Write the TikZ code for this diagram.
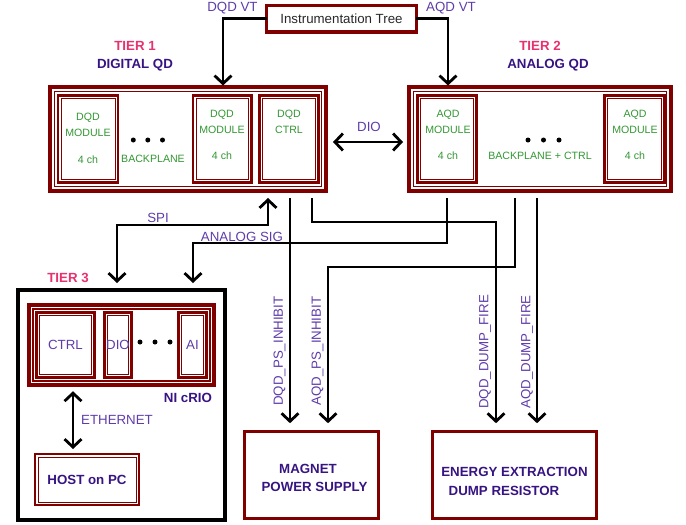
\documentclass[tikz,border=0pt]{standalone}
\usepackage{fontspec}
\setmainfont{Liberation Sans}
\usetikzlibrary{arrows.meta}
\definecolor{dkred}{RGB}{128,0,0}
\definecolor{modgreen}{RGB}{50,150,50}
\definecolor{lblpurple}{RGB}{95,60,170}
\definecolor{hdrblue}{RGB}{55,20,130}
\definecolor{tierpink}{RGB}{230,50,110}
\definecolor{treetext}{RGB}{40,40,40}
\newcommand\mainsz{\fontsize{13.3pt}{15pt}\selectfont}
\newcommand\modsz{\fontsize{10.6pt}{12pt}\selectfont}
\begin{document}
\begin{tikzpicture}[x=1pt,y=-1pt,
  every node/.style={inner sep=0pt, outer sep=0pt},
  tierbox/.style={draw=dkred, line width=3.7pt,
    path picture={\draw[dkred,line width=1.6pt]
      ([shift={(4.4pt,-4.4pt)}]path picture bounding box.north west) rectangle
      ([shift={(-4.4pt,4.4pt)}]path picture bounding box.south east);}},
  modbox/.style={draw=dkred, line width=2.8pt,
    path picture={\draw[dkred,line width=0.8pt]
      ([shift={(3pt,-3pt)}]path picture bounding box.north west) rectangle
      ([shift={(-3pt,3pt)}]path picture bounding box.south east);}},
  plainbox/.style={draw=dkred, line width=3.4pt},
  modtxt/.style={font=\modsz, text=modgreen},
  lbl/.style={font=\mainsz, text=lblpurple},
  hdr/.style={font=\mainsz\bfseries, text=hdrblue},
  tiertxt/.style={font=\mainsz\bfseries, text=tierpink},
  arr/.style={line width=2.8pt, -{Straight Barb[length=8pt,width=17pt]}},
  dblarr/.style={line width=2.8pt, {Straight Barb[length=8pt,width=17pt]}-{Straight Barb[length=8pt,width=17pt]}},
  dot/.style={fill=black}
]
\useasboundingbox (0,0) rectangle (686,525);

% Instrumentation tree
\node[plainbox, minimum width=149.6pt, minimum height=26.6pt, font=\mainsz, text=treetext] (tree) at (341.5,18.5) {Instrumentation Tree};
\node[lbl] (dvt) at (232.5,8) {DQD VT};
\node[lbl] (avt) at (451,8) {AQD VT};

% Tier 1
\node[tiertxt] (t1a) at (135,46) {TIER 1};
\node[hdr] (t1b) at (135,65) {DIGITAL QD};
\node[tierbox, minimum width=276pt, minimum height=104pt] (t1) at (188,139) {};
\node[modbox, minimum width=60pt, minimum height=87.5pt] (dm1) at (88,139) {};
\node[modbox, minimum width=58.7pt, minimum height=87.5pt] (dm2) at (222.3,139) {};
\node[modbox, minimum width=59.4pt, minimum height=87.5pt] (dctrl) at (289,139) {};
\node[modtxt] (dm1a) at (88,118) {DQD};
\node[modtxt] (dm1b) at (88,133) {MODULE};
\node[modtxt] (dm1c) at (88,160) {4 ch};
\node[modtxt] (dm2a) at (222,115) {DQD};
\node[modtxt] (dm2b) at (222,130) {MODULE};
\node[modtxt] (dm2c) at (222,156) {4 ch};
\node[modtxt] (dca) at (289,115) {DQD};
\node[modtxt] (dcb) at (289,130) {CTRL};
\node[modtxt] (bp1) at (153,159) {BACKPLANE};
\fill[dot] (133.3,140) circle (2.5pt) (147.8,140) circle (2.5pt) (162.5,140) circle (2.5pt);

% Tier 2
\node[tiertxt] (t2a) at (540,46) {TIER 2};
\node[hdr] (t2b) at (548,65) {ANALOG QD};
\node[tierbox, minimum width=262pt, minimum height=104pt] (t2) at (540,139) {};
\node[modbox, minimum width=59.4pt, minimum height=87.5pt] (am1) at (447,139) {};
\node[modbox, minimum width=60.4pt, minimum height=87.5pt] (am2) at (634.5,139) {};
\node[modtxt] (am1a) at (448,115) {AQD};
\node[modtxt] (am1b) at (448,130) {MODULE};
\node[modtxt] (am1c) at (448,156) {4 ch};
\node[modtxt] (am2a) at (635,115) {AQD};
\node[modtxt] (am2b) at (635,130) {MODULE};
\node[modtxt] (am2c) at (635,156) {4 ch};
\node[modtxt] (bp2) at (540,156) {BACKPLANE + CTRL};
\fill[dot] (528,140) circle (2.5pt) (543.5,140) circle (2.5pt) (559,140) circle (2.5pt);

% DIO
\node[lbl] (diol) at (369,127) {DIO};
\draw[dblarr, shorten <=7pt, shorten >=6pt] ([yshift=-3pt]t1.east) -- ([yshift=-3pt]t2.west);

% Tier 3
\node[tiertxt] (t3a) at (68,278) {TIER 3};
\node[draw=black, line width=4pt, minimum width=207pt, minimum height=230pt] (t3) at (121.5,405) {};
\node[tierbox, minimum width=185.5pt, minimum height=80.5pt] (crio) at (121.5,345) {};
\node[modbox, minimum width=58.5pt, minimum height=65.5pt, lbl] (cctrl) at (65.5,345) {CTRL};
\node[modbox, minimum width=27.5pt, minimum height=65.5pt, lbl] (cdio) at (118,345) {DIO};
\node[modbox, minimum width=28.5pt, minimum height=65.5pt, lbl] (cai) at (192.5,345) {AI};
\fill[dot] (140,342) circle (2.5pt) (155,342) circle (2.5pt) (170,342) circle (2.5pt);
\node[hdr] (criol) at (188,398) {NI cRIO};
\node[modbox, minimum width=104pt, minimum height=51pt, hdr] (host) at (87,479.5) {HOST on PC};
\draw[dblarr, shorten <=6pt, shorten >=5pt] (crio.south -| 73,0) -- (host.north -| 73,0);
\node[lbl] (ethl) at (117,420) {ETHERNET};

% Magnet and energy boxes
\node[plainbox, minimum width=133.6pt, minimum height=86.6pt] (mag) at (311.5,475) {};
\node[hdr] (maga) at (308,469) {MAGNET};
\node[hdr] (magb) at (314.5,487) {POWER SUPPLY};
\node[plainbox, minimum width=163.6pt, minimum height=86.6pt] (en) at (514.5,475) {};
\node[hdr] (ena) at (514.5,472) {ENERGY EXTRACTION};
\node[hdr] (enb) at (504,491) {DUMP RESISTOR};

% connector coordinates
\coordinate (cL) at (223,0);
\coordinate (cR) at (448,0);
\coordinate (spiA) at (268,225);
\coordinate (spiB) at (117,225);
\coordinate (asA) at (447,243);
\coordinate (asB) at (193,243);
\coordinate (dps) at (290,0);
\coordinate (aps1) at (515,267);
\coordinate (aps2) at (328,267);
\coordinate (ddf1) at (312,222);
\coordinate (ddf2) at (496,222);
\coordinate (adf) at (537,0);

\draw[arr, shorten >=1.5pt] (tree.west) -| (t1.north -| cL);
\draw[arr, shorten >=1.5pt] (tree.east) -| (t2.north -| cR);
\draw[dblarr, shorten <=7pt, shorten >=7pt] (t1.south -| spiA) -- (spiA) -- (spiB) -- (t3.north -| spiB);
\node[lbl] (spil) at (158,218) {SPI};
\draw[arr, shorten <=7pt, shorten >=7pt] (t2.south -| asA) -- (asA) -- (asB) -- (t3.north -| asB);
\node[lbl] (asl) at (242,237) {ANALOG SIG};
\draw[arr, shorten <=7pt, shorten >=8.5pt] (t1.south -| dps) -- (mag.north -| dps);
\draw[arr, shorten <=7pt, shorten >=8.5pt] (t2.south -| aps1) -- (aps1) -- (aps2) -- (mag.north -| aps2);
\draw[arr, shorten <=7pt, shorten >=8.5pt] (t1.south -| ddf1) -- (ddf1) -- (ddf2) -- (en.north -| ddf2);
\draw[arr, shorten <=7pt, shorten >=8.5pt] (t2.south -| adf) -- (en.north -| adf);

\node[lbl, rotate=90] (l1) at (279.5,351) {DQD\_PS\_INHIBIT};
\node[lbl, rotate=90] (l2) at (317.5,351) {AQD\_PS\_INHIBIT};
\node[lbl, rotate=90] (l3) at (485,352) {DQD\_DUMP\_FIRE};
\node[lbl, rotate=90] (l4) at (527,352) {AQD\_DUMP\_FIRE};
\end{tikzpicture}
\end{document}
